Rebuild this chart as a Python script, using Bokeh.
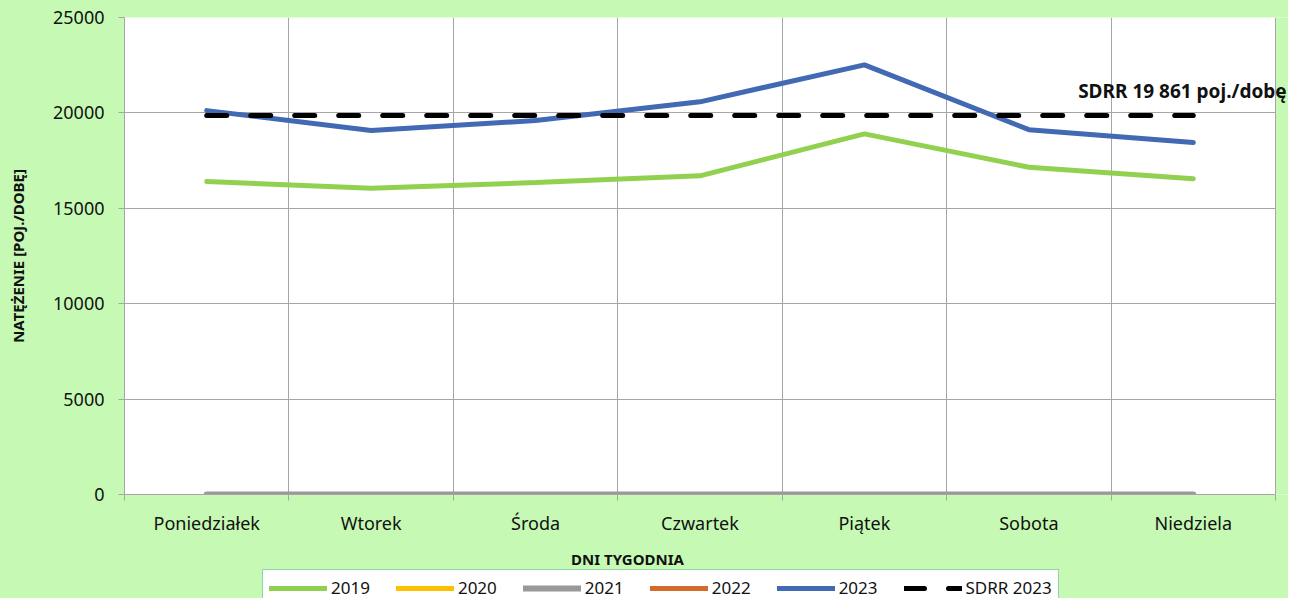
from bokeh.plotting import figure
from bokeh.layouts import column
from bokeh.models import (Range1d, FixedTicker, Legend, LegendItem, Label,
                          ColumnDataSource, BoxAnnotation, Span)
from bokeh.embed import file_html
from bokeh.resources import INLINE

days = ["Poniedziałek", "Wtorek", "Środa", "Czwartek", "Piątek", "Sobota", "Niedziela"]
v2019 = [16400, 16050, 16350, 16700, 18900, 17150, 16550]
v2020 = [0, 0, 0, 0, 0, 0, 0]
v2021 = [0, 0, 0, 0, 0, 0, 0]
v2022 = [0, 0, 0, 0, 0, 0, 0]
v2023 = [20120, 19080, 19600, 20580, 22520, 19120, 18450]
sdrr_value = 19861
sdrr = [sdrr_value] * len(days)
y_ticks = [0, 5000, 10000, 15000, 20000, 25000]
series_names = ["2019", "2020", "2021", "2022", "2023", "SDRR 2023"]

n = len(days)
xc = [i + 0.5 for i in range(n)]
extra = 13 / (1151 / n)   # green margin right of the plot area

BG = "#C6FAB4"
FONT = "Noto Sans"
GRID = "#A6A6A6"
W = 1288
LEFT = 124

styles = {
    "2019": dict(line_color="#92D050", line_width=5, line_cap="round"),
    "2020": dict(line_color="#FFC000", line_width=5, line_cap="round"),
    "2021": dict(line_color="#999999", line_width=6, line_cap="round"),
    "2022": dict(line_color="#D46B2A", line_width=5, line_cap="round"),
    "2023": dict(line_color="#4169B4", line_width=5, line_cap="round"),
    "SDRR 2023": dict(line_color="black", line_width=5, line_dash="20 24", line_cap="round"),
}

p = figure(width=W, height=540, output_backend="svg", toolbar_location=None,
           x_range=Range1d(0, n + extra), y_range=Range1d(0, 25000),
           min_border_left=LEFT, min_border_right=0, min_border_top=17, min_border_bottom=46)
p.background_fill_color = "white"
p.border_fill_color = BG
p.outline_line_color = None

# x axis
p.xaxis.ticker = FixedTicker(ticks=xc, minor_ticks=list(range(n + 1)))
p.xaxis.bounds = (0, n)
p.xaxis.major_label_overrides = {x: d for x, d in zip(xc, days)}
p.xaxis.major_tick_out = 0
p.xaxis.major_tick_in = 0
p.xaxis.minor_tick_out = 6
p.xaxis.minor_tick_in = 0
p.xaxis.minor_tick_line_color = GRID
p.xaxis.axis_line_color = GRID
p.xaxis.major_label_text_font = FONT
p.xaxis.major_label_text_font_size = "18px"
p.xaxis.major_label_text_color = "#111111"
p.xaxis.major_label_standoff = 10
p.xgrid.ticker = FixedTicker(ticks=list(range(1, n)))
p.xgrid.grid_line_color = GRID

# y axis
p.yaxis.ticker = FixedTicker(ticks=y_ticks)
p.yaxis.minor_tick_line_color = None
p.yaxis.major_tick_out = 6
p.yaxis.major_tick_in = 0
p.yaxis.major_tick_line_color = GRID
p.yaxis.axis_line_color = GRID
p.yaxis.major_label_text_font = FONT
p.yaxis.major_label_text_font_size = "18px"
p.yaxis.major_label_text_color = "#111111"
p.yaxis.major_label_standoff = 14
p.yaxis.axis_label = "NATĘŻENIE [POJ./DOBĘ]"
p.yaxis.axis_label_text_font = FONT
p.yaxis.axis_label_text_font_style = "bold"
p.yaxis.axis_label_text_font_size = "15px"
p.yaxis.axis_label_text_color = "#111111"
p.yaxis.axis_label_standoff = 22
p.ygrid.grid_line_color = GRID

# green strip right of the plot area + right border of the plot area
p.add_layout(BoxAnnotation(left=n, fill_color=BG, fill_alpha=1, line_color=None))
p.add_layout(Span(location=n, dimension="height", line_color=GRID, line_width=1))

data = dict(x=xc, v2019=v2019, v2020=v2020, v2021=v2021, v2022=v2022, v2023=v2023, sdrr=sdrr)
cols = {"2019": "v2019", "2020": "v2020", "2021": "v2021", "2022": "v2022",
        "2023": "v2023", "SDRR 2023": "sdrr"}
src = ColumnDataSource(data)

for name in ["2019", "2020", "2022", "2021", "2023", "SDRR 2023"]:
    p.line("x", cols[name], source=src, **styles[name])

p.add_layout(Label(x=n + extra, x_offset=-2, y=21174, text="SDRR 19 861 poj./dobę",
                   text_align="right", text_baseline="middle",
                   text_font=FONT, text_font_style="bold", text_font_size="19px",
                   text_color="#111111"))

# bottom strip: axis title + legend (x in page pixels)
H2 = 58
q = figure(width=W, height=H2, output_backend="svg", toolbar_location=None,
           x_range=Range1d(LEFT, W), y_range=Range1d(0, H2),
           x_axis_type=None, y_axis_type=None, min_border=0, min_border_left=LEFT)
q.background_fill_alpha = 0
q.border_fill_alpha = 0
q.outline_line_color = None
q.grid.visible = False

q.add_layout(Label(x=627, y=H2 - 18, text="DNI TYGODNIA",
                   text_align="center", text_baseline="middle",
                   text_font=FONT, text_font_style="bold", text_font_size="15px",
                   text_color="#111111"))

# legend renderers in the strip (their data lies outside the strip's ranges)
qsrc = ColumnDataSource(data)
items = []
for name in series_names:
    r = q.line("x", cols[name], source=qsrc, **styles[name])
    items.append(LegendItem(label=name, renderers=[r]))

legend = Legend(items=items, orientation="horizontal", location=(262 - LEFT, -8))
legend.glyph_width = 58
legend.glyph_height = 16
legend.label_standoff = 4
legend.spacing = 26
legend.padding = 6
legend.margin = 0
legend.label_text_font = FONT
legend.label_text_font_size = "17px"
legend.label_text_color = "#111111"
legend.border_line_color = "#1FAF4B"
legend.border_line_width = 1.5
legend.background_fill_color = "white"
legend.background_fill_alpha = 1
q.add_layout(legend, "center")

layout = column(p, q, spacing=0, styles={"background-color": BG})
open("out.html", "w").write(file_html(layout, INLINE))
